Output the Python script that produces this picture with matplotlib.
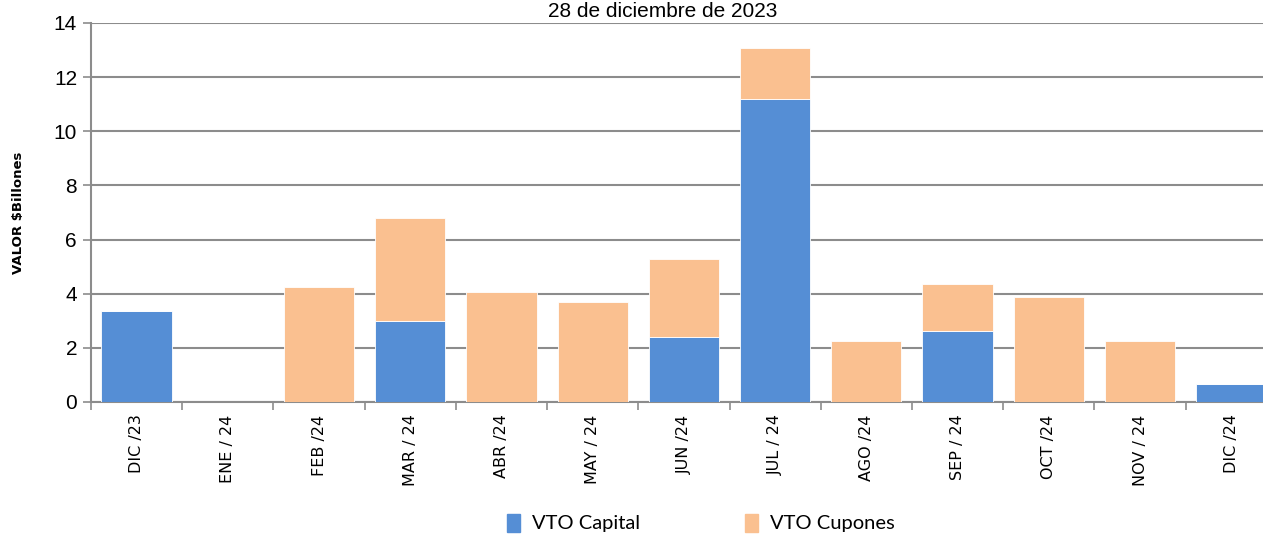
import numpy as np
import matplotlib.pyplot as plt
from matplotlib.patches import Patch

# vencimientos por mes (billones de pesos)
meses = ['DIC /23', 'ENE / 24', 'FEB /24', 'MAR / 24', 'ABR /24', 'MAY / 24',
         'JUN /24', 'JUL / 24', 'AGO /24', 'SEP / 24', 'OCT /24', 'NOV / 24', 'DIC /24']
capital = [3.36, 0, 0, 3.0, 0, 0, 2.40, 11.18, 0, 2.62, 0, 0, 0.65]
cupones = [0, 0, 4.26, 3.8, 4.05, 3.68, 2.88, 1.89, 2.26, 1.73, 3.88, 2.25, 0]

azul = '#558ED5'
naranja = '#FAC090'
gris = '#8c8c8c'
fuente = ['Liberation Sans', 'DejaVu Sans']

fig = plt.figure(figsize=(12.63, 5.37), dpi=100)
ax = fig.add_axes([0.072, 0.2514, 0.939, 0.7058])

x = np.arange(len(meses))
ax.bar(x, capital, width=0.77, color=azul, edgecolor='white', linewidth=0.6, zorder=3)
ax.bar(x, cupones, width=0.77, bottom=capital, color=naranja,
       edgecolor='white', linewidth=0.6, zorder=3)

ax.set_xlim(-0.5, len(meses) - 0.5)
ax.set_ylim(0, 14)
ax.set_yticks(range(0, 15, 2))
ax.yaxis.grid(True, color=gris, linewidth=1.5, zorder=0)

ax.set_xticks(x)
ax.set_xticklabels(meses, rotation=90, fontsize=11.5, family='DejaVu Sans')
ax.tick_params(axis='x', length=0, pad=9)
ax.set_xticks(np.arange(-0.5, len(meses)), minor=True)
ax.tick_params(axis='x', which='minor', length=6, color=gris, width=1.2)
ax.tick_params(axis='y', length=6, color=gris, width=1.2, pad=4, labelsize=15)
for lbl in ax.get_yticklabels():
    lbl.set_family(fuente)

for s in ['top', 'right']:
    ax.spines[s].set_visible(False)
for s in ['left', 'bottom']:
    ax.spines[s].set_color(gris)
    ax.spines[s].set_linewidth(1.5)

fig.text(0.0145, 0.603, 'VALOR $Billones', rotation=90, ha='center', va='center',
         fontsize=9.5, fontweight='bold', family='DejaVu Sans')
fig.text(0.525, 0.978, '28 de diciembre de 2023', ha='center', va='center',
         fontsize=15, family=fuente)

handles = [Patch(color=azul, label='VTO Capital'), Patch(color=naranja, label='VTO Cupones')]
fig.legend(handles=handles, loc='center', bbox_to_anchor=(0.555, 0.026), ncol=2,
           frameon=False, handlelength=0.65, handleheight=1.0,
           handletextpad=0.6, columnspacing=5.2, prop={'family': 'Lato', 'size': 14.5})

fig.savefig('out.png', dpi=100)
